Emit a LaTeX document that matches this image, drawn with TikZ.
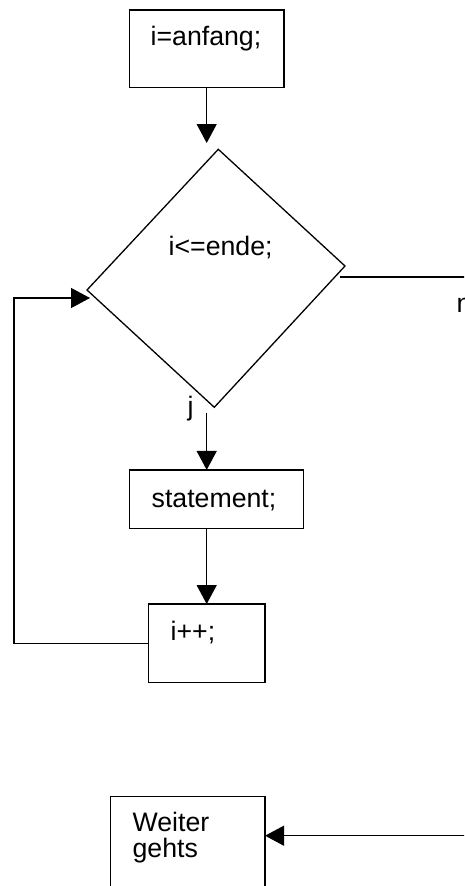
\documentclass[tikz,border=0pt]{standalone}
\usepackage{fontspec}
\setmainfont{Liberation Sans}
\usetikzlibrary{arrows.meta}
\begin{document}
\begin{tikzpicture}[x=1pt,y=-1pt,
  line width=1.3pt,
  box/.style={draw, line width=1.3pt, inner sep=0pt, outer sep=0pt, minimum width=#1},
  txt/.style={inner sep=0pt, anchor=base west, font=\fontsize{26.7}{26}\selectfont},
  arr/.style={-{Triangle[length=19pt,width=20pt]}}]
\useasboundingbox (0,0) rectangle (464,886);
\clip (0,0) rectangle (464,886);
% boxes
\node[box=154.7pt, minimum height=77.3pt] (b1) at (206.7,48.7) {};
\node[box=174pt, minimum height=58.7pt] (st) at (216.3,499.3) {};
\node[box=116.7pt, minimum height=78.3pt] (inc) at (206.7,643.2) {};
\node[box=154.7pt, minimum height=103pt] (wg) at (187.7,848) {};
% diamond
\coordinate (dt) at (218.3,149.3);
\coordinate (dr) at (345,266);
\coordinate (db) at (214.3,407.3);
\coordinate (dl) at (87,290);
\draw (dt) -- (dr) -- (db) -- (dl) -- cycle;
% texts
\node[txt] (t1) at (150,45) {i=anfang;};
\node[txt] (t2) at (168,255) {i<=ende;};
\node[txt] (tj) at (187,415) {j};
\node[txt] (tn) at (456,312) {n};
\node[txt] (t3) at (151,507) {statement;};
\node[txt] (t4) at (170,640) {i++;};
\node[txt] (t5) at (132,831) {Weiter};
\node[txt] (t6) at (132,857) {gehts};
% connectors
\coordinate (a1) at (206.7,143);
\draw[arr] (b1.south) -- (a1);
\coordinate (jtop) at (206.7,413);
\draw[arr] (jtop) -- (jtop |- st.north);
\draw[arr] (inc.north |- st.south) -- (inc.north);
\coordinate (lp1) at (14,643.2);
\coordinate (lp2) at (14,298);
\coordinate (lpt) at (90,298);
\draw[arr] (inc.west) -- (lp1) -- (lp2) -- (lpt);
\coordinate (ns) at (340,277);
\coordinate (ne) at (470,277);
\draw (ns) -- (ne);
\coordinate (ws) at (470,835.7);
\draw[arr] (ws) -- (ws -| wg.east);
\end{tikzpicture}
\end{document}
